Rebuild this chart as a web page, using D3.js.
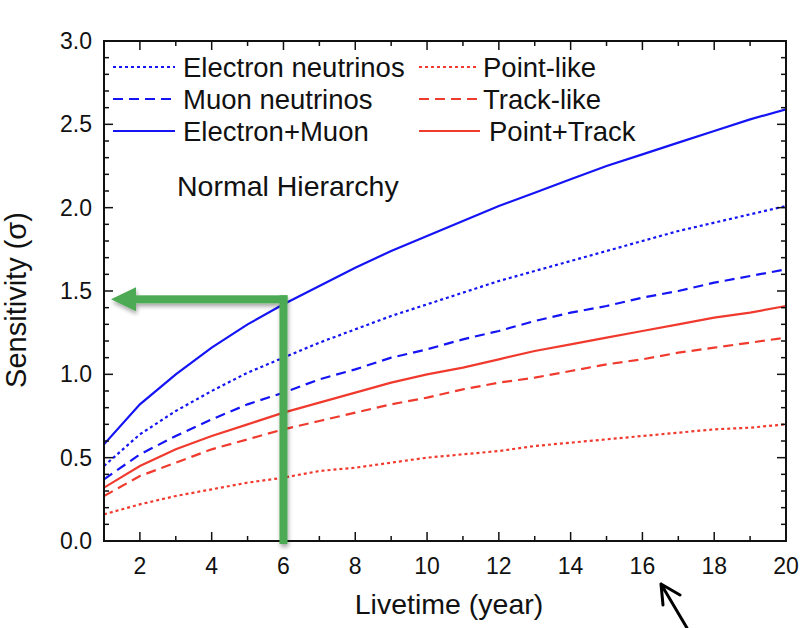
<!DOCTYPE html>
<html>
<head>
<meta charset='utf-8'>
<title>Sensitivity vs livetime</title>
<style>
body { margin: 0; background: #fff; }
text { font-family: 'Liberation Sans', Arial, sans-serif; fill: #111; }
</style>
</head>
<body>
<div id='chart'></div>
<script src='https://cdn.jsdelivr.net/npm/d3@7'></script>
<script>
// livetime in years
var years = [1,2,3,4,5,6,7,8,9,10,11,12,13,14,15,16,17,18,19,20];

// sensitivity (sigma)
var electronMuon = [0.58,0.82,1.00,1.16,1.30,1.42,1.53,1.64,1.74,1.83,1.92,2.01,2.09,2.17,2.25,2.32,2.39,2.46,2.53,2.59];
var electronNu   = [0.45,0.64,0.78,0.90,1.01,1.10,1.19,1.27,1.35,1.42,1.49,1.56,1.62,1.68,1.74,1.80,1.86,1.91,1.96,2.01];
var muonNu       = [0.37,0.52,0.63,0.73,0.82,0.89,0.97,1.03,1.10,1.15,1.21,1.26,1.32,1.37,1.41,1.46,1.50,1.55,1.59,1.63];
var pointTrack   = [0.32,0.45,0.55,0.63,0.70,0.77,0.83,0.89,0.95,1.00,1.04,1.09,1.14,1.18,1.22,1.26,1.30,1.34,1.37,1.41];
var trackLike    = [0.27,0.39,0.47,0.55,0.61,0.67,0.72,0.77,0.82,0.86,0.91,0.95,0.98,1.02,1.06,1.09,1.13,1.16,1.19,1.22];
var pointLike    = [0.16,0.22,0.27,0.31,0.35,0.38,0.42,0.44,0.47,0.50,0.52,0.54,0.57,0.59,0.61,0.63,0.65,0.67,0.68,0.70];

var xTicks = [2,4,6,8,10,12,14,16,18,20];
var yTicks = [0,0.5,1,1.5,2,2.5,3];

// the highlighted reading: 6 years -> ~1.45 sigma
var markYear = 6, markSigma = 1.45;

var blue = '#1414f5', red = '#f03a2e', green = '#4caa52';

var series = [
  {name: 'Electron neutrinos', vals: electronNu,   color: blue, dash: '3,3'},
  {name: 'Muon neutrinos',     vals: muonNu,       color: blue, dash: '10,6'},
  {name: 'Electron+Muon',      vals: electronMuon, color: blue, dash: null},
  {name: 'Point-like',         vals: pointLike,    color: red,  dash: '3,3'},
  {name: 'Track-like',         vals: trackLike,    color: red,  dash: '10,6'},
  {name: 'Point+Track',        vals: pointTrack,   color: red,  dash: null}
];

var W = 807, H = 628;
var L = 104, R = 786, T = 41, B = 541;

var svg = d3.select('#chart').append('svg').attr('width', W).attr('height', H);

var x = d3.scaleLinear().domain([1, 20]).range([L, R]);
var y = d3.scaleLinear().domain([0, 3]).range([B, T]);

var defs = svg.append('defs');
defs.append('clipPath').attr('id', 'clip')
  .append('rect').attr('x', L).attr('y', T).attr('width', R - L).attr('height', B - T);
var f = defs.append('filter').attr('id', 'shadow')
  .attr('x', '-20%').attr('y', '-20%').attr('width', '140%').attr('height', '140%');
f.append('feDropShadow').attr('dx', 1).attr('dy', 3).attr('stdDeviation', 2)
  .attr('flood-color', '#000').attr('flood-opacity', 0.35);

// curves
var line = d3.line().x(function (d) { return x(d[0]); }).y(function (d) { return y(d[1]); });
var plot = svg.append('g').attr('clip-path', 'url(#clip)');
series.forEach(function (s) {
  plot.append('path')
    .datum(years.map(function (yr, i) { return [yr, s.vals[i]]; }))
    .attr('d', line)
    .attr('fill', 'none')
    .attr('stroke', s.color)
    .attr('stroke-width', 2.2)
    .attr('stroke-dasharray', s.dash);
});

// axes, ticks pointing inwards on all four sides
var xMinor = d3.range(1, 21);
var yMinor = d3.range(0, 31).map(function (d) { return d / 10; });
var axisG = svg.append('g').attr('stroke', '#111').attr('stroke-width', 1.5);

xMinor.forEach(function (v) {
  var len = (v % 2 === 0) ? 9 : 5;
  axisG.append('line').attr('x1', x(v)).attr('x2', x(v)).attr('y1', B).attr('y2', B - len);
  axisG.append('line').attr('x1', x(v)).attr('x2', x(v)).attr('y1', T).attr('y2', T + len);
});
yMinor.forEach(function (v, i) {
  var len = (i % 5 === 0) ? 9 : 5;
  axisG.append('line').attr('x1', L).attr('x2', L + len).attr('y1', y(v)).attr('y2', y(v));
  axisG.append('line').attr('x1', R).attr('x2', R - len).attr('y1', y(v)).attr('y2', y(v));
});
svg.append('rect').attr('x', L).attr('y', T).attr('width', R - L).attr('height', B - T)
  .attr('fill', 'none').attr('stroke', '#111').attr('stroke-width', 2);

svg.selectAll('.xt').data(xTicks).enter().append('text')
  .attr('x', function (d) { return x(d); })
  .attr('y', B + 33)
  .attr('text-anchor', 'middle')
  .style('font-size', '23px')
  .text(function (d) { return d; });

svg.selectAll('.yt').data(yTicks).enter().append('text')
  .attr('x', L - 12)
  .attr('y', function (d) { return y(d) + 8; })
  .attr('text-anchor', 'end')
  .style('font-size', '23px')
  .text(function (d) { return d.toFixed(1); });

svg.append('text')
  .attr('x', 449)
  .attr('y', 614)
  .attr('text-anchor', 'middle')
  .style('font-size', '28.5px')
  .text('Livetime (year)');

svg.append('text')
  .attr('transform', 'translate(26,300) rotate(-90)')
  .attr('text-anchor', 'middle')
  .style('font-size', '29px')
  .text('Sensitivity (σ)');

// legend
var leg = svg.append('g');
series.forEach(function (s, i) {
  var col = Math.floor(i / 3), row = i % 3;
  var lx = col === 0 ? 113 : 419;
  var ly = 67 + row * 32;
  var lw = col === 0 ? 62 : (row === 2 ? 61 : 58);
  leg.append('line')
    .attr('x1', lx).attr('x2', lx + lw).attr('y1', ly).attr('y2', ly)
    .attr('stroke', s.color).attr('stroke-width', 2)
    .attr('stroke-dasharray', s.dash);
  leg.append('text')
    .attr('x', lx + lw + (col === 0 ? 8 : (row === 2 ? 9 : 6)))
    .attr('y', ly + 10)
    .style('font-size', '27.5px')
    .text(s.name);
});

svg.append('text')
  .attr('x', 177)
  .attr('y', 196)
  .style('font-size', '28.5px')
  .text('Normal Hierarchy');

// green reading arrow
var ga = svg.append('g').attr('filter', 'url(#shadow)').attr('fill', green);
var bw = 8;
ga.append('rect')
  .attr('x', x(markYear) - bw / 2).attr('y', y(markSigma) - bw / 2)
  .attr('width', bw).attr('height', B + 3 - (y(markSigma) - bw / 2));
ga.append('rect')
  .attr('x', L + 30).attr('y', y(markSigma) - bw / 2)
  .attr('width', x(markYear) + bw / 2 - (L + 30)).attr('height', bw);
ga.append('path')
  .attr('d', 'M' + (L + 7) + ',' + y(markSigma) +
             'L' + (L + 32) + ',' + (y(markSigma) - 12) +
             'L' + (L + 32) + ',' + (y(markSigma) + 12) + 'Z');

// black pointer below the axis
svg.append('path')
  .attr('d', 'M687,628L661,584M661,584L680,595M661,584L663,605')
  .attr('fill', 'none').attr('stroke', '#000').attr('stroke-width', 3)
  .attr('stroke-linecap', 'round');
</script>
</body>
</html>
